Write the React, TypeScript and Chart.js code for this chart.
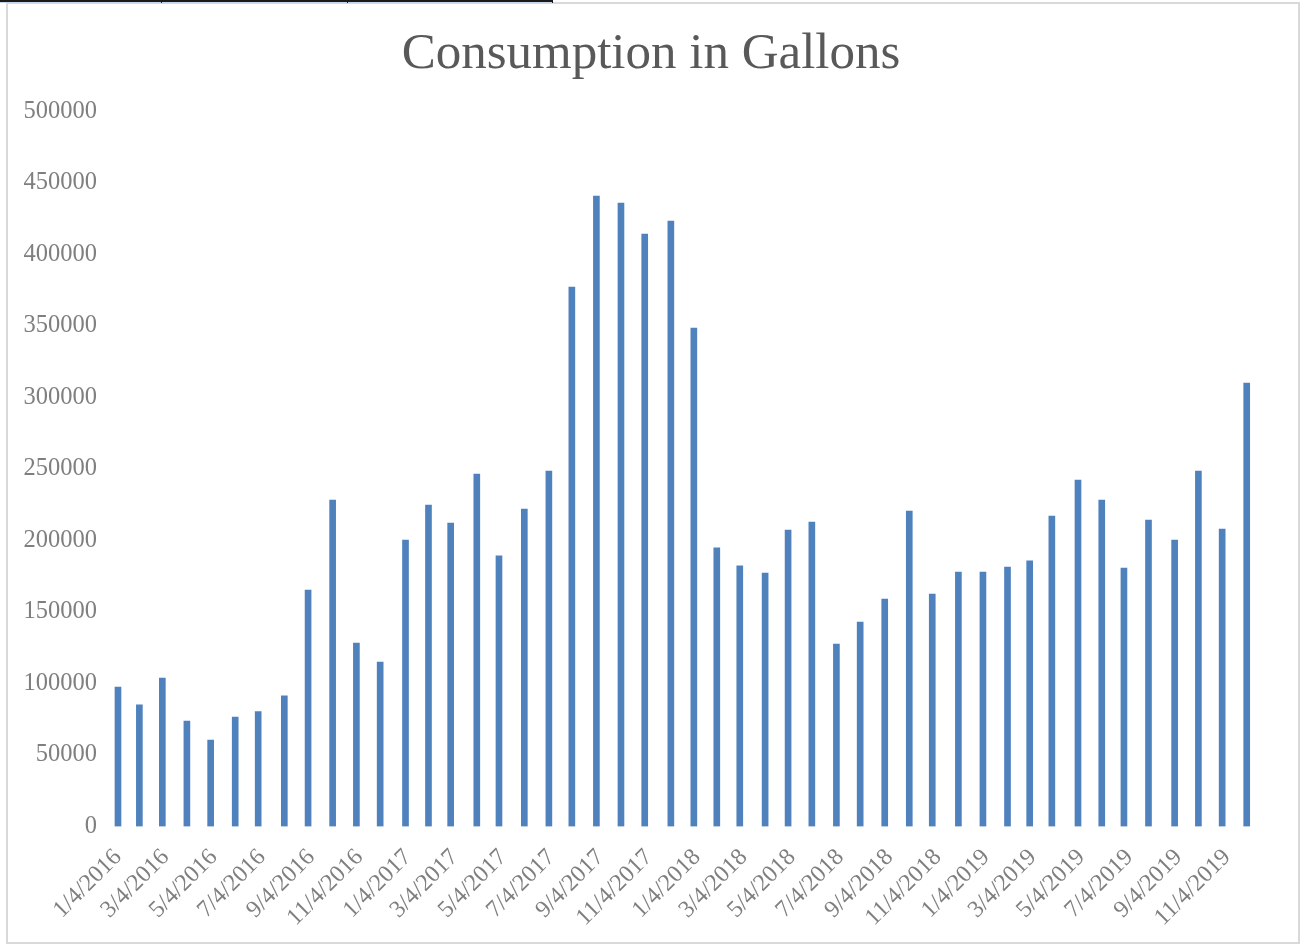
import React, { useEffect, useRef } from "react";
import { Chart, registerables } from "chart.js";

Chart.register(...registerables);

// Meter reading dates (estimated from bar positions on the date axis)
const readingDates: string[] = [
  "2016-01-04", "2016-01-31", "2016-02-29", "2016-03-31", "2016-04-30", "2016-05-31",
  "2016-06-29", "2016-08-01", "2016-08-31", "2016-10-01", "2016-10-31", "2016-11-30",
  "2017-01-01", "2017-01-30", "2017-02-27", "2017-04-01", "2017-04-29", "2017-05-31",
  "2017-07-01", "2017-07-30", "2017-08-30", "2017-09-30", "2017-10-30", "2017-12-02",
  "2017-12-31", "2018-01-29", "2018-02-27", "2018-03-31", "2018-04-29", "2018-05-29",
  "2018-06-29", "2018-07-29", "2018-08-29", "2018-09-29", "2018-10-28", "2018-11-30",
  "2018-12-31", "2019-01-31", "2019-02-28", "2019-03-28", "2019-04-30", "2019-05-30",
  "2019-06-27", "2019-07-28", "2019-08-30", "2019-09-29", "2019-10-29", "2019-11-29",
];

// Consumption in gallons
const consumption: number[] = [
  97500, 85000, 103800, 73800, 60500, 76600,
  80300, 91300, 165400, 228300, 128300, 115000,
  200300, 224800, 212200, 246500, 189200, 222000,
  248600, 377300, 440900, 436000, 414300, 423400,
  348600, 194800, 182200, 177300, 207300, 212900,
  127600, 143000, 159100, 220600, 162600, 178000,
  178000, 181500, 185700, 217100, 242300, 228300,
  180800, 214300, 200300, 248500, 208000, 310100,
];

// X axis tick labels (every two months)
const tickLabels: string[] = [
  "1/4/2016", "3/4/2016", "5/4/2016", "7/4/2016", "9/4/2016", "11/4/2016",
  "1/4/2017", "3/4/2017", "5/4/2017", "7/4/2017", "9/4/2017", "11/4/2017",
  "1/4/2018", "3/4/2018", "5/4/2018", "7/4/2018", "9/4/2018", "11/4/2018",
  "1/4/2019", "3/4/2019", "5/4/2019", "7/4/2019", "9/4/2019", "11/4/2019",
];

const Y_MAX = 500000;
const Y_STEP = 50000;
const TITLE = "Consumption in Gallons";

const ORIGIN = Date.UTC(2016, 0, 4);
const DAY = 86400000;
const dayOfIso = (s: string) => {
  const [y, m, d] = s.split("-").map(Number);
  return Math.round((Date.UTC(y, m - 1, d) - ORIGIN) / DAY);
};
const dayOfMdy = (s: string) => {
  const [m, d, y] = s.split("/").map(Number);
  return Math.round((Date.UTC(y, m - 1, d) - ORIGIN) / DAY);
};

const SERIF = "'Liberation Serif', 'Times New Roman', serif";

export default function App() {
  const ref = useRef<HTMLCanvasElement | null>(null);

  useEffect(() => {
    if (!ref.current) return;
    const points = readingDates.map((d, i) => ({ x: dayOfIso(d), y: consumption[i] }));
    const tickDays = tickLabels.map(dayOfMdy);
    const chart = new Chart(ref.current, {
      type: "bar",
      data: {
        datasets: [
          {
            label: "Consumption",
            data: points as any,
            backgroundColor: "#4f81bd",
            borderWidth: 0,
            barThickness: 6,
          },
        ],
      },
      options: {
        animation: false,
        responsive: false,
        layout: { padding: { left: 0, right: 0, top: 0, bottom: 0 } },
        plugins: {
          legend: { display: false },
          tooltip: { enabled: false },
          title: {
            display: true,
            text: TITLE,
            color: "#595959",
            font: { family: SERIF, size: 51, weight: "normal" },
            padding: { top: 24, bottom: 26.3 },
          },
        },
        scales: {
          x: {
            type: "linear",
            offset: false,
            min: -22.7,
            max: 1494.8,
            grid: { display: false, drawTicks: false },
            border: { display: false },
            afterBuildTicks: (scale: any) => {
              scale.ticks = tickDays.map((v) => ({ value: v }));
            },
            afterFit: (scale: any) => {
              scale.height = 117.5;
            },
            ticks: {
              autoSkip: false,
              maxRotation: 45,
              minRotation: 45,
              padding: 17,
              color: "#7f7f7f",
              font: { family: SERIF, size: 24 },
              callback: (value: any) => {
                const idx = tickDays.indexOf(Math.round(Number(value)));
                return idx >= 0 ? tickLabels[idx] : "";
              },
            },
          },
          y: {
            min: 0,
            max: Y_MAX,
            grid: { display: false, drawTicks: false },
            border: { display: false },
            afterFit: (scale: any) => {
              scale.width = 100;
            },
            ticks: {
              stepSize: Y_STEP,
              padding: 3,
              color: "#7f7f7f",
              font: { family: SERIF, size: 24.5 },
              callback: (value: any) => String(value),
            },
          },
        },
      },
    });
    return () => chart.destroy();
  }, []);

  return (
    <div style={{ position: "absolute", left: 0, top: 0, width: 1302, height: 944, background: "#fff", overflow: "hidden" }}>
      <canvas ref={ref} width={1302} height={944} style={{ position: "absolute", left: 0, top: 0, width: 1302, height: 944 }} />
      <div style={{ position: "absolute", left: 6, top: 2, width: 1290, height: 938, border: "2px solid #d9d9d9", pointerEvents: "none" }} />
      <div style={{ position: "absolute", left: 0, top: 0, width: 553, height: 2, background: "#1a1a1a" }} />
      <div style={{ position: "absolute", left: 0, top: 2, width: 553, height: 1, background: "#c5d5ea" }} />
      <div style={{ position: "absolute", left: 161, top: 0, width: 1, height: 3, background: "#1a1a1a" }} />
      <div style={{ position: "absolute", left: 347, top: 0, width: 1, height: 3, background: "#1a1a1a" }} />
      <div style={{ position: "absolute", left: 552, top: 0, width: 1, height: 3, background: "#1a1a1a" }} />
    </div>
  );
}
